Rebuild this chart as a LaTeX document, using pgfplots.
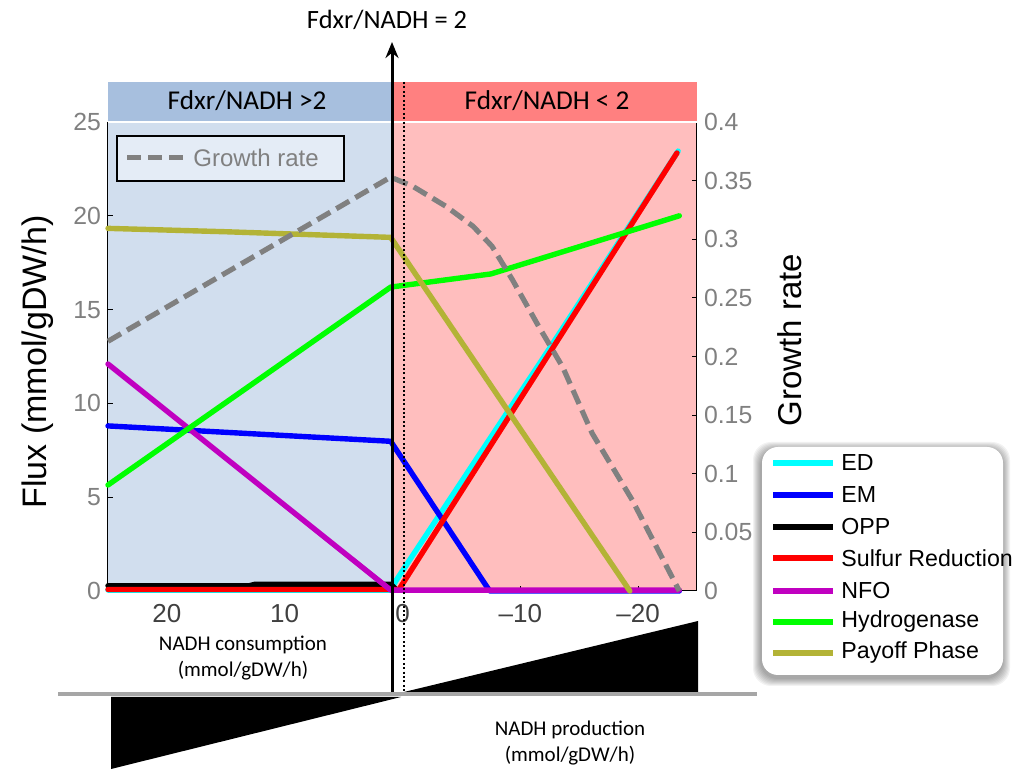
\documentclass[border=0pt]{standalone}
\usepackage{pgfplots}
\pgfplotsset{compat=1.18}
\usepackage{fontspec}
\setmainfont{Liberation Sans}
\newfontfamily\cali{Carlito}
\usetikzlibrary{arrows.meta}

\definecolor{bgblue}{HTML}{D1DEEE}
\definecolor{bandblue}{HTML}{A7BFDE}
\definecolor{bgred}{HTML}{FFBEBE}
\definecolor{bandred}{HTML}{FF8080}
\definecolor{tickgray}{HTML}{808080}
\definecolor{xtickc}{HTML}{404040}
\definecolor{cED}{HTML}{00FFFF}
\definecolor{cEM}{HTML}{0000FF}
\definecolor{cOPP}{HTML}{000000}
\definecolor{cSR}{HTML}{FF0000}
\definecolor{cNFO}{HTML}{C000C0}
\definecolor{cH2}{HTML}{00FF00}
\definecolor{cPO}{HTML}{B3B336}
\definecolor{cGR}{HTML}{808080}
\definecolor{legfill}{HTML}{E4ECF6}
\definecolor{basegray}{HTML}{A6A6A6}

\begin{document}
\begin{tikzpicture}[x=1pt,y=1pt]
\useasboundingbox (0,0) rectangle (509,-384.5);
% region backgrounds
\fill[bandblue] (54,-41) rectangle (196,-61);
\fill[bandred] (196,-41) rectangle (348.5,-61);
\fill[bgblue] (54,-61.5) rectangle (196,-295.5);
\fill[bgred] (196,-61.5) rectangle (348.5,-295.5);

\begin{axis}[
  at={(54pt,-295.5pt)}, anchor=south west,
  scale only axis, width=294.5pt, height=234.5pt,
  xmin=-25, xmax=25, x dir=reverse, ymin=0, ymax=25,
  axis y line*=left, axis x line*=bottom,
  axis line style={black, line width=0.5pt},
  xtick={-20,-10,0,10,20}, xticklabels={\textendash20,\textendash10,0,10,20},
  ytick={0,5,10,15,20,25}, yticklabels={0,5,10,15,20,25},
  tick align=inside, major tick length=2.5pt,
  tick style={black, line width=0.5pt},
  yticklabel style={font=\fontsize{12.4}{12.4}\selectfont, text=tickgray},
  xticklabel style={font=\fontsize{13}{13}\selectfont, text=xtickc, yshift=-3pt},
  clip=false,
  every axis plot/.append style={line width=2.7pt, line join=round, line cap=round},
]
\addplot[cED] coordinates {(25,0.05) (1,0.05) (0.5,0.6) (-12.5,12.95) (-23.4,23.45)};
\addplot[cEM] coordinates {(25,8.8) (1,7.98) (-7.4,0) (-23.5,0)};
\addplot[cOPP] coordinates {(25,0.28) (13,0.28) (12.5,0.36) (1,0.36) (0.5,0.05)};
\addplot[cSR] coordinates {(25,0.08) (0.3,0.08) (-23.3,23.35)};
\addplot[cNFO] coordinates {(25,12.1) (1,0.05) (-23.5,0.05)};
\addplot[cH2] coordinates {(25,5.65) (1,16.2) (-7.5,16.9) (-23.5,20.0)};
\addplot[cPO] coordinates {(25,19.33) (15,19.15) (1,18.85) (-19.3,0)};
\end{axis}

\begin{axis}[
  at={(54pt,-295.5pt)}, anchor=south west,
  scale only axis, width=294.5pt, height=234.5pt,
  xmin=-25, xmax=25, x dir=reverse, ymin=0, ymax=0.4,
  axis y line*=right, axis x line=none,
  axis line style={black, line width=0.5pt},
  ytick={0,0.05,0.1,0.15,0.2,0.25,0.3,0.35,0.4},
  yticklabels={0,0.05,0.1,0.15,0.2,0.25,0.3,0.35,0.4},
  tick align=inside, major tick length=2.5pt,
  tick style={black, line width=0.5pt},
  yticklabel style={font=\fontsize{12.4}{12.4}\selectfont, text=tickgray},
  clip=false,
]
\addplot[cGR, line width=2.6pt, dash pattern=on 7.5pt off 3.5pt] coordinates {
(25,0.213) (13,0.283) (1,0.353) (-0.9,0.345) (-3.7,0.328) (-6,0.311) (-7.6,0.294)
(-9.3,0.266) (-11.6,0.225) (-13.6,0.191) (-16.1,0.1345) (-19.5,0.0776) (-23.5,0)};
\end{axis}

% white separator under band
\draw[white, line width=0.8pt] (54,-61) -- (348.5,-61);

% axis labels
\node[rotate=90, font=\fontsize{17}{17}\selectfont] at (19,-181) {Flux (mmol/gDW/h)};
\node[rotate=90, font=\fontsize{16.5}{16.5}\selectfont] at (395,-170) {Growth rate};

% band labels & title
\node[font=\cali\fontsize{13.6}{13.6}\selectfont] at (123.5,-50.5) {Fdxr/NADH >2};
\node[font=\cali\fontsize{13.6}{13.6}\selectfont] at (273.5,-50.5) {Fdxr/NADH < 2};
\node[font=\cali\fontsize{13.2}{13.2}\selectfont] at (193.5,-10) {Fdxr/NADH = 2};

% bottom baseline and triangles
\draw[basegray, line width=2pt] (29,-347) -- (378.5,-347);
\fill[black] (55.5,-348.5) -- (200.5,-348.5) -- (55.5,-384.5) -- cycle;
\fill[black] (202,-346) -- (349,-346) -- (349,-310.5) -- cycle;

% vertical arrow and dotted line
\draw[line width=1.5pt, -{Stealth[length=8pt,width=6.5pt]}] (196,-346) -- (196,-21);
\draw[line width=1pt, dash pattern=on 1pt off 1.2pt] (202,-41) -- (202,-346);

% NADH labels
\node[font=\cali\fontsize{10.5}{13}\selectfont, align=center] at (121.5,-329) {NADH consumption\\(mmol/gDW/h)};
\node[font=\cali\fontsize{10.5}{13}\selectfont, align=center] at (285,-371.5) {NADH production\\(mmol/gDW/h)};

% growth-rate legend
\draw[black, line width=0.8pt, fill=legfill] (58.5,-68) rectangle (172,-90.5);
\draw[cGR, line width=2.5pt, dash pattern=on 7pt off 3.5pt] (63.5,-79) -- (92.5,-79);
\node[anchor=west, inner sep=0pt, text=tickgray, font=\fontsize{12}{12}\selectfont] at (96.5,-79) {Growth rate};

% pathway legend with soft shadow
\foreach \i in {0.5,1,...,4}{
  \fill[black, opacity=0.05, rounded corners=9pt] (381-\i-0.5,-223.5+\i-1.5) rectangle (501.5+\i-0.5,-337.5-\i-1.5);
}
\fill[white, rounded corners=8pt] (381,-223.5) rectangle (501.5,-337.5);
\foreach \y/\c/\t in {-231.5/cED/ED, -247.5/cEM/EM, -263.5/cOPP/OPP, -279/cSR/Sulfur Reduction, -295.5/cNFO/NFO, -311/cH2/Hydrogenase, -326.5/cPO/Payoff Phase}{
  \draw[\c, line width=2.6pt] (386.5,\y) -- (416.5,\y);
  \node[anchor=west, inner sep=0pt, font=\fontsize{11.6}{11.6}\selectfont] at (420.5,\y) {\t};
}
\end{tikzpicture}
\end{document}
